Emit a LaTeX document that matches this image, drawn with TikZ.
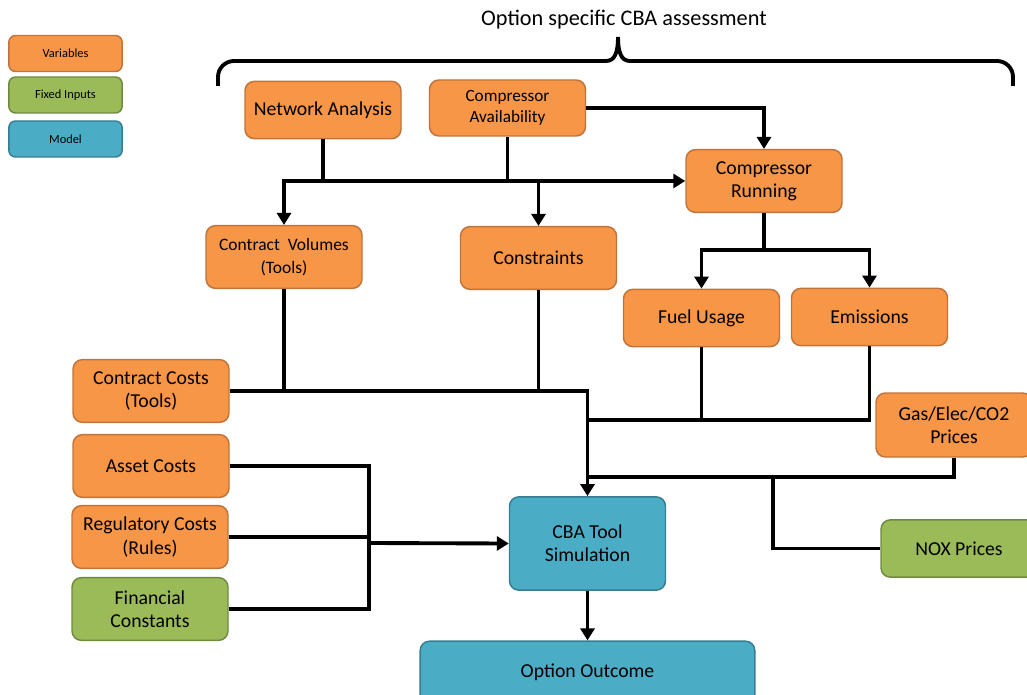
\documentclass[tikz,border=0pt]{standalone}
\usepackage{fontspec}
\setmainfont{Carlito}
\usetikzlibrary{arrows.meta}
\definecolor{varfill}{HTML}{F79646}
\definecolor{vardraw}{HTML}{C0733A}
\definecolor{fixfill}{HTML}{9BBB59}
\definecolor{fixdraw}{HTML}{71893F}
\definecolor{modfill}{HTML}{4BACC6}
\definecolor{moddraw}{HTML}{357D91}
\begin{document}
\begin{tikzpicture}[
    x=0.75pt, y=-0.75pt,
    box/.style={rectangle, rounded corners=7pt, line width=1.1pt, align=center, minimum width=117pt, minimum height=47pt, inner sep=2pt, font=\fontsize{14.8}{17.5}\selectfont},
    varbox/.style={box, draw=vardraw, fill=varfill},
    fixbox/.style={box, draw=fixdraw, fill=fixfill},
    modbox/.style={box, draw=moddraw, fill=modfill},
    legbox/.style={minimum width=85pt, minimum height=27pt, rounded corners=5pt, font=\fontsize{9.3}{11}\selectfont},
    link/.style={line width=2.9pt},
    feed/.style={link, -{Triangle[width=10.5pt,length=9pt]}},
    twofeed/.style={link, {Triangle[width=10.5pt,length=9pt]}-{Triangle[width=10.5pt,length=9pt]}}
]
    \useasboundingbox (0,0) rectangle (1027,695);
    % Legend
    \node[varbox, legbox] (legvar) at (65.5,53.5) {Variables};
    \node[fixbox, legbox] (legfix) at (65.5,95) {Fixed Inputs};
    \node[modbox, legbox] (legmod) at (65.5,139) {Model};
    % Brace and title
    \draw[line width=2.9pt, rounded corners=12pt] (218,86) -- (218,61) -- (600,61);
    \draw[line width=2.9pt] (600,61) -- (606,61) .. controls (615,61) and (618,52) .. (618,37)
        .. controls (618,52) and (621,61) .. (630,61) -- (636,61);
    \draw[line width=2.9pt, rounded corners=12pt] (636,61) -- (1013,61) -- (1013,86);
    \node[font=\fontsize{16.7}{20}\selectfont] (title) at (624,20) {Option specific CBA assessment};
    % Variable nodes
    \node[varbox, minimum height=43pt] (netan) at (323,110) {Network Analysis};
    \node[varbox, minimum height=42pt, font=\fontsize{12.9}{16}\selectfont] (compavail) at (507.5,108) {Compressor\\Availability};
    \node[varbox] (comprun) at (764,181) {Compressor\\Running};
    \node[varbox, font=\fontsize{13.1}{17.5}\selectfont] (contvol) at (284,257) {Contract\ \ Volumes\\(Tools)};
    \node[varbox] (constr) at (538.5,258) {Constraints};
    \node[varbox, minimum height=43pt] (fuel) at (701.5,318) {Fuel Usage};
    \node[varbox, minimum height=43pt] (emis) at (869.5,317) {Emissions};
    \node[varbox] (contcost) at (151,391) {Contract Costs\\(Tools)};
    \node[varbox] (asset) at (151,466) {Asset Costs};
    \node[varbox] (regcost) at (150,537) {Regulatory Costs\\(Rules)};
    \node[fixbox] (fincon) at (150,609) {Financial\\Constants};
    \node[varbox, minimum height=48pt] (prices) at (954,425) {Gas/Elec/CO2\\Prices};
    \node[fixbox, minimum height=43pt] (nox) at (959,548.5) {NOX Prices};
    % Model nodes
    \node[modbox, minimum height=70pt] (cba) at (587.5,543.5) {CBA Tool\\Simulation};
    \node[modbox, minimum width=251pt] (outcome) at (587.5,672.5) {Option Outcome};
    % Junctions
    \coordinate (topbus) at (284,181);
    \coordinate (runbus) at (764,250);
    \coordinate (fuelbus) at (588,420);
    \coordinate (pricebus) at (588,477);
    \coordinate (noxbus) at (773,477);
    \coordinate (leftbus) at (369,543);
    % Top connectors
    \draw[link] (netan.south) -- (netan.south |- topbus);
    \draw[link] (compavail.south) -- (compavail.south |- topbus);
    \draw[twofeed] (contvol.north) |- (comprun.west);
    \draw[feed] (constr.north |- topbus) -- (constr.north);
    \draw[feed] (compavail.east) -| (comprun.north);
    \draw[link] (comprun.south) -- (runbus);
    \draw[twofeed] (fuel.north) |- (runbus) -| (emis.north);
    % Inputs to the simulation
    \draw[feed] (contcost.east) -| (cba.north);
    \draw[link] (contvol.south) -- (contvol.south |- contcost.east);
    \draw[link] (constr.south) -- (constr.south |- contcost.east);
    \draw[link] (fuel.south) |- (fuelbus);
    \draw[link] (emis.south) |- (fuelbus);
    \draw[link] (prices.south) |- (pricebus);
    \draw[link] (nox.west) -| (noxbus);
    \draw[link] (asset.east) -| (leftbus) |- (fincon.east);
    \draw[link] (regcost.east) -- (regcost.east -| leftbus);
    \draw[feed] (leftbus) -- (cba.west);
    \draw[feed] (cba.south) -- (outcome.north);
\end{tikzpicture}
\end{document}
